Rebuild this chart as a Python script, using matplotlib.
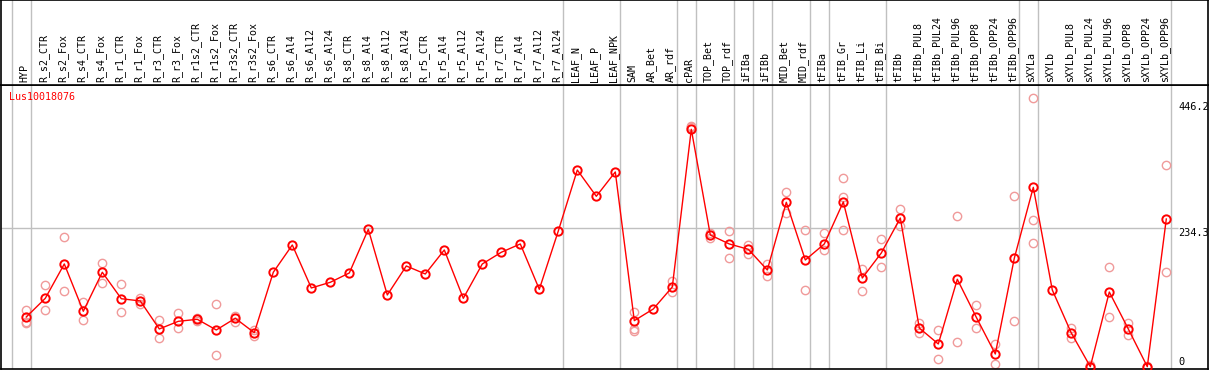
import matplotlib
matplotlib.use("Agg")
import matplotlib.pyplot as plt
import matplotlib.transforms as mtransforms

# sample names (x axis, top)
samples = ["HYP", "R_s2_CTR", "R_s2_Fox", "R_s4_CTR", "R_s4_Fox", "R_r1_CTR", "R_r1_Fox",
           "R_r3_CTR", "R_r3_Fox", "R_r1s2_CTR", "R_r1s2_Fox", "R_r3s2_CTR", "R_r3s2_Fox",
           "R_s6_CTR", "R_s6_Al4", "R_s6_Al12", "R_s6_Al24", "R_s8_CTR", "R_s8_Al4",
           "R_s8_Al12", "R_s8_Al24", "R_r5_CTR", "R_r5_Al4", "R_r5_Al12", "R_r5_Al24",
           "R_r7_CTR", "R_r7_Al4", "R_r7_Al12", "R_r7_Al24", "LEAF_N", "LEAF_P", "LEAF_NPK",
           "SAM", "AR_Bet", "AR_rdf", "cPAR", "TOP_Bet", "TOP_rdf", "iFIBa", "iFIBb",
           "MID_Bet", "MID_rdf", "tFIBa", "tFIB_Gr", "tFIB_Li", "tFIB_Bi", "tFIBb",
           "tFIBb_PUL8", "tFIBb_PUL24", "tFIBb_PUL96", "tFIBb_OPP8", "tFIBb_OPP24",
           "tFIBb_OPP96", "sXYLa", "sXYLb", "sXYLb_PUL8", "sXYLb_PUL24", "sXYLb_PUL96",
           "sXYLb_OPP8", "sXYLb_OPP24", "sXYLb_OPP96"]

# mean expression per sample
means = [83.8, 115.3, 173.2, 93.4, 159.2, 114.6, 110.8, 63.6, 76.5, 79.9, 61.9, 81.6, 57.3,
         159.2, 205.2, 132.7, 142.3, 158.0, 231.6, 120.9, 169.8, 156.3, 196.8, 115.3, 173.2,
         192.9, 206.9, 130.5, 228.8, 331.6, 287.3, 328.3,
         77.6, 97.3, 134.4, 400.2, 222.0, 206.9, 197.9, 163.0, 277.2, 179.9, 206.9, 277.7,
         149.5, 191.7, 250.7, 65.2, 38.3, 147.4, 83.3, 21.4, 182.8, 302.4, 129.3, 56.8,
         0.0, 125.9, 63.6, 0.0, 249.0]

# replicate values (empty = single measurement)
reps = [[95.6, 75.9, 73.7], [137.2, 95.1], [218.7, 127.1], [109.1, 78.7], [174.8, 141.6],
        [138.9, 91.7], [116.3, 106.2], [78.7, 47.9], [90.5, 64.7], [82.0, 77.0],
        [105.2, 19.2], [86.0, 75.9], [61.9, 51.8],
        [], [], [], [], [], [], [], [], [], [], [], [], [], [], [], [], [], [], [],
        [92.7, 63.6, 60.7], [], [144.5, 125.4], [406.3, 403.6], [225.9, 216.5],
        [228.8, 183.3], [205.7, 190.5], [173.7, 152.9], [294.5, 258.6], [230.0, 129.3],
        [224.9, 196.2], [317.6, 286.6, 230.5], [164.7, 127.6], [215.3, 167.6],
        [265.9, 237.7], [74.2, 56.3], [61.9, 13.0], [254.1, 41.1], [104.0, 65.2],
        [38.3, 4.6], [287.3, 77.0], [453.0, 247.3, 208.6], [], [65.8, 47.9], [2.5, 0.5],
        [168.1, 83.3], [74.2, 54.0], [0.5, 0.0], [339.6, 159.2]]

# last sample of each group (gray separators), -1 = before first
group_ends = [-1, 0, 28, 31, 34, 35, 37, 38, 39, 41, 42, 45, 52, 53, 60]
y_ticks = [446.2, 234.3, 0]
gene = "Lus10018076"

W, H = 1209, 370
fig = plt.figure(figsize=(W / 100, H / 100), dpi=100)
mono = "DejaVu Sans Mono"
grey = "#c0c0c0"

x0 = 1 / W
x1 = 1208 / W
sep = (H - 85) / H
ax = fig.add_axes([x0, 1 / H, x1 - x0, sep - 1 / H])
hd = fig.add_axes([x0, sep, x1 - x0, 1 - sep], sharex=ax)

xl = ((1 - 26.3) / 19, (1208 - 26.3) / 19)
ax.set_xlim(*xl)
ax.set_ylim(-3.9, 474.9)
hd.set_ylim(0, 1)

for a in (ax, hd):
    a.set_xticks([])
    a.set_yticks([])
    for s in a.spines.values():
        s.set_color("black")
        s.set_linewidth(1.2)
    for g in group_ends:
        a.axvline(g + 0.23, color=grey, lw=1, zorder=0)

ax.hlines(234.3, xl[0], 60.6, color=grey, lw=1, zorder=0)

xs = list(range(len(samples)))
for i, r in enumerate(reps):
    if r:
        ax.plot([i] * len(r), r, "o", ms=6, mfc="none", mec="#f09a9a", mew=1.0,
                ls="none", zorder=2, clip_on=False)
ax.plot(xs, means, "-", color="red", lw=1, zorder=3, clip_on=False)
ax.plot(xs, means, "o", ms=6, mfc="none", mec="red", mew=1.4, zorder=4, clip_on=False)

tr = mtransforms.blended_transform_factory(hd.transData, hd.transAxes)
for i, s in enumerate(samples):
    hd.text(i - 0.1, 0.03, s, rotation=90, ha="center", va="bottom",
            family=mono, fontsize=7.2, transform=tr)

fig.text(9 / W, 1 - 92 / H, gene, color="red", family=mono, fontsize=7.2,
         ha="left", va="top")

for v in y_ticks:
    ax.text(60.62, v, f"{v:g}" if v else "0", family=mono, fontsize=7.4,
            ha="left", va="bottom" if v == 0 else "top")

fig.savefig("out.png", dpi=100)
